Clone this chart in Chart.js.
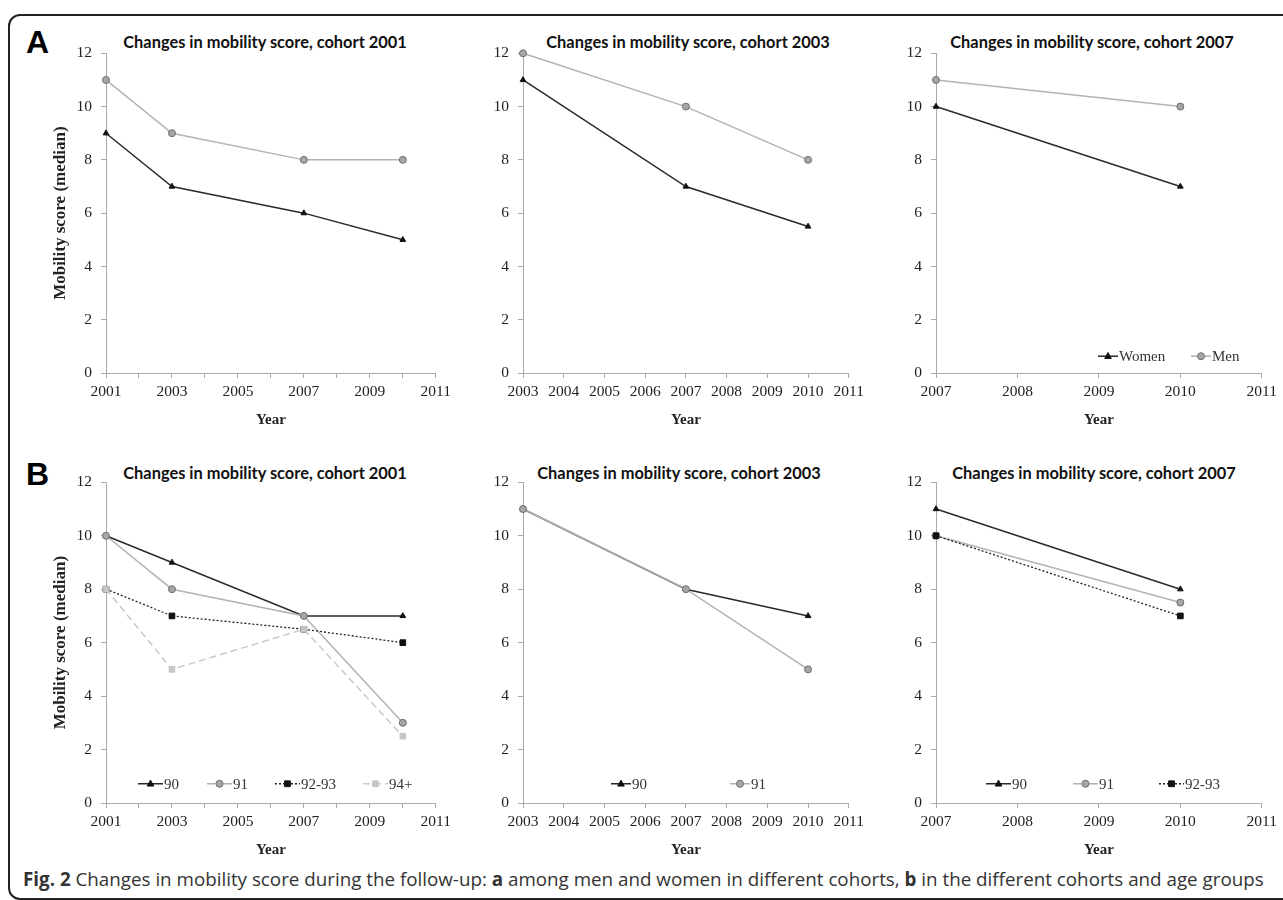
<!DOCTYPE html>
<html>
<head>
<meta charset="utf-8">
<script src="https://cdn.jsdelivr.net/npm/chart.js@4.4.1/dist/chart.umd.min.js"></script>
<style>
  html, body { margin:0; padding:0; background:#fff; }
  body { width:1283px; height:900px; position:relative; overflow:hidden; }
  .frame { position:absolute; left:8px; top:14px; width:1500px; height:886px;
           border:2px solid #222; border-radius:12px; box-sizing:border-box; }
  .box { position:absolute; }
  .ptitle { position:absolute; transform:translateX(-50%); white-space:nowrap;
            font-family:'Lato','Open Sans',sans-serif; font-weight:700; font-size:16.4px;
            line-height:18px; color:#111; }
  .letter { position:absolute; font-family:'Liberation Sans',Arial,sans-serif; font-weight:700;
            font-size:32px; line-height:32px; color:#000; }
  .caption { position:absolute; left:23px; top:867px; white-space:nowrap;
             font-family:'Open Sans',sans-serif; font-size:18.8px; line-height:24px; color:#333; }
  .caption b { font-weight:700; }
</style>
</head>
<body>
<div class="frame"></div>

<div class="letter" style="left:26px;top:26px;">A</div>
<div class="letter" style="left:26px;top:458px;">B</div>

<div class="ptitle" style="left:265px;top:33px;">Changes in mobility score, cohort 2001</div>
<div class="ptitle" style="left:688px;top:33px;">Changes in mobility score, cohort 2003</div>
<div class="ptitle" style="left:1092px;top:33px;">Changes in mobility score, cohort 2007</div>
<div class="ptitle" style="left:265px;top:464px;">Changes in mobility score, cohort 2001</div>
<div class="ptitle" style="left:679px;top:464px;">Changes in mobility score, cohort 2003</div>
<div class="ptitle" style="left:1094px;top:464px;">Changes in mobility score, cohort 2007</div>

<div class="box" style="left:46px;top:35px;width:410px;height:398px;"><canvas id="a1" width="410" height="398"></canvas></div>
<div class="box" style="left:463px;top:35px;width:406px;height:398px;"><canvas id="a2" width="406" height="398"></canvas></div>
<div class="box" style="left:876px;top:35px;width:406px;height:398px;"><canvas id="a3" width="406" height="398"></canvas></div>
<div class="box" style="left:46px;top:464px;width:410px;height:399px;"><canvas id="b1" width="410" height="399"></canvas></div>
<div class="box" style="left:463px;top:464px;width:406px;height:399px;"><canvas id="b2" width="406" height="399"></canvas></div>
<div class="box" style="left:876px;top:464px;width:406px;height:399px;"><canvas id="b3" width="406" height="399"></canvas></div>

<div class="caption"><b>Fig. 2</b> Changes in mobility score during the follow-up: <b>a</b> among men and women in different cohorts, <b>b</b> in the different cohorts and age groups</div>

<script>
// ---------- data ----------
const yTickStep = 2;
const yMin = 0, yMax = 12;

const yearsCohort2001 = [2001, 2003, 2007, 2010];
const yearsCohort2003 = [2003, 2007, 2010];
const yearsCohort2007 = [2007, 2010];

const xRange2001 = [2001, 2011];
const xRange2003 = [2003, 2011];
const xRange2007 = [2007, 2011];

// Panel A: sex
const sexLabels = ['Women', 'Men'];
const womenA2001 = [9, 7, 6, 5];
const menA2001   = [11, 9, 8, 8];
const womenA2003 = [11, 7, 5.5];
const menA2003   = [12, 10, 8];
const womenA2007 = [10, 7];
const menA2007   = [11, 10];

// Panel B: age groups
const ageLabels = ['90', '91', '92-93', '94+'];
const age90B2001   = [10, 9, 7, 7];
const age91B2001   = [10, 8, 7, 3];
const age9293B2001 = [8, 7, 6.5, 6];
const age94B2001   = [8, 5, 6.5, 2.5];
const age90B2003   = [11, 8, 7];
const age91B2003   = [11, 8, 5];
const age90B2007   = [11, 8];
const age91B2007   = [10, 7.5];
const age9293B2007 = [10, 7];

const yAxisTitle = 'Mobility score (median)';
const xAxisTitle = 'Year';

// ---------- styles ----------
const STYLE = {
  dark:  { borderColor:'#2a2a2a', borderWidth:1.5, borderDash:[], pointStyle:'triangle', pointRadius:3.3, pointBackgroundColor:'#111', pointBorderColor:'#111' },
  gray:  { borderColor:'#b3b3b3', borderWidth:1.5, borderDash:[], pointStyle:'circle', pointRadius:3.5, pointBackgroundColor:'#a6a6a6', pointBorderColor:'#6f6f6f' },
  dot:   { borderColor:'#222', borderWidth:1.3, borderDash:[2,2], pointStyle:'rect', pointRadius:4, pointBackgroundColor:'#111', pointBorderColor:'#111' },
  light: { borderColor:'#c9c9c9', borderWidth:1.5, borderDash:[7,4], pointStyle:'rect', pointRadius:4, pointBackgroundColor:'#c6c6c6', pointBorderColor:'#c6c6c6' }
};

function series(label, years, values, style, idx) {
  return Object.assign({
    label: label,
    data: years.map((x, i) => ({ x: x, y: values[i] })),
    pointBorderWidth: 1,
    tension: 0,
    fill: false,
    clip: false,
    order: -idx
  }, style);
}

function drawMarker(ctx, style, r, x, y) {
  ctx.beginPath();
  if (style === 'triangle') {
    ctx.moveTo(x, y - r * 1.1);
    ctx.lineTo(x + r, y + r * 0.7);
    ctx.lineTo(x - r, y + r * 0.7);
    ctx.closePath();
  } else if (style === 'rect') {
    const s = r * 0.72;
    ctx.rect(x - s, y - s, 2 * s, 2 * s);
  } else {
    ctx.arc(x, y, r, 0, Math.PI * 2);
  }
  ctx.fill();
  ctx.stroke();
}

const inlineLegend = {
  id: 'inlineLegend',
  afterDatasetsDraw(chart, args, opts) {
    if (!opts || !opts.offsets) return;
    const { ctx, chartArea, scales } = chart;
    const y = scales.y.getPixelForValue(opts.value);
    ctx.save();
    chart.data.datasets.forEach((ds, i) => {
      const x0 = chartArea.left + opts.offsets[i];
      const x1 = x0 + opts.lineLength;
      ctx.beginPath();
      ctx.setLineDash(ds.borderDash || []);
      ctx.strokeStyle = ds.borderColor;
      ctx.lineWidth = ds.borderWidth;
      ctx.moveTo(x0, y); ctx.lineTo(x1, y); ctx.stroke();
      ctx.setLineDash([]);
      ctx.fillStyle = ds.pointBackgroundColor;
      ctx.strokeStyle = ds.pointBorderColor;
      ctx.lineWidth = 1;
      drawMarker(ctx, ds.pointStyle, ds.pointRadius, (x0 + x1) / 2, y);
      ctx.fillStyle = '#333';
      ctx.font = "15px 'Liberation Serif', serif";
      ctx.textBaseline = 'middle';
      ctx.textAlign = 'left';
      ctx.fillText(ds.label, x1 + 1, y + 1);
    });
    ctx.restore();
  }
};

function makeChart(id, datasets, xRange, opts) {
  const serif = "'Liberation Serif', 'Times New Roman', serif";
  return new Chart(document.getElementById(id), {
    type: 'line',
    data: { datasets: datasets },
    plugins: [inlineLegend],
    options: {
      responsive: false,
      animation: false,
      events: [],
      layout: { padding: { top: 15, right: 20, bottom: 0, left: 0 } },
      plugins: {
        legend: { display: false },
        title: { display: false },
        tooltip: { enabled: false },
        inlineLegend: opts.legend
      },
      scales: {
        x: {
          type: 'linear',
          min: xRange[0], max: xRange[1],
          afterFit: s => { s.height = 60; },
          afterBuildTicks: s => {
            const t = [];
            for (let v = xRange[0]; v <= xRange[1]; v++) t.push({ value: v });
            s.ticks = t;
          },
          ticks: {
            autoSkip: false, maxRotation: 0, padding: 5, color: '#222',
            font: { family: serif, size: 15.5 },
            callback: v => (opts.labelEvery2 && (v - xRange[0]) % 2 !== 0) ? '' : String(v)
          },
          grid: { drawOnChartArea: false, drawTicks: true, tickLength: 5, color: '#aaa' },
          border: { color: '#aaa', width: 1 },
          title: { display: true, text: xAxisTitle, color: '#222', padding: { top: 4, bottom: 4 },
                   font: { family: serif, size: 15, weight: 'bold' } }
        },
        y: {
          min: yMin, max: yMax,
          afterFit: s => { s.width = 60; },
          ticks: { stepSize: yTickStep, padding: 9, color: '#222', font: { family: serif, size: 15.5 } },
          grid: { drawOnChartArea: false, drawTicks: true, tickLength: 5, color: '#aaa' },
          border: { color: '#aaa', width: 1 },
          title: { display: !!opts.yTitle, text: yAxisTitle, color: '#222', padding: { top: 4, bottom: 4 },
                   font: { family: serif, size: 17, weight: 'bold' } }
        }
      }
    }
  });
}

makeChart('a1', [
  series(sexLabels[0], yearsCohort2001, womenA2001, STYLE.dark, 0),
  series(sexLabels[1], yearsCohort2001, menA2001, STYLE.gray, 1)
], xRange2001, { labelEvery2: true, yTitle: true });

makeChart('a2', [
  series(sexLabels[0], yearsCohort2003, womenA2003, STYLE.dark, 0),
  series(sexLabels[1], yearsCohort2003, menA2003, STYLE.gray, 1)
], xRange2003, {});

makeChart('a3', [
  series(sexLabels[0], yearsCohort2007, womenA2007, STYLE.dark, 0),
  series(sexLabels[1], yearsCohort2007, menA2007, STYLE.gray, 1)
], xRange2007, { legend: { value: 0.63, offsets: [162, 255], lineLength: 20 } });

makeChart('b1', [
  series(ageLabels[0], yearsCohort2001, age90B2001, STYLE.dark, 0),
  series(ageLabels[1], yearsCohort2001, age91B2001, STYLE.gray, 1),
  series(ageLabels[2], yearsCohort2001, age9293B2001, STYLE.dot, 2),
  series(ageLabels[3], yearsCohort2001, age94B2001, STYLE.light, 3)
], xRange2001, { labelEvery2: true, yTitle: true, legend: { value: 0.72, offsets: [32, 101, 169, 257], lineLength: 25 } });

makeChart('b2', [
  series(ageLabels[0], yearsCohort2003, age90B2003, STYLE.dark, 0),
  series(ageLabels[1], yearsCohort2003, age91B2003, STYLE.gray, 1)
], xRange2003, { legend: { value: 0.72, offsets: [88, 207], lineLength: 20 } });

makeChart('b3', [
  series(ageLabels[0], yearsCohort2007, age90B2007, STYLE.dark, 0),
  series(ageLabels[1], yearsCohort2007, age91B2007, STYLE.gray, 1),
  series(ageLabels[2], yearsCohort2007, age9293B2007, STYLE.dot, 2)
], xRange2007, { legend: { value: 0.72, offsets: [50, 137, 223], lineLength: 25 } });
</script>
</body>
</html>
